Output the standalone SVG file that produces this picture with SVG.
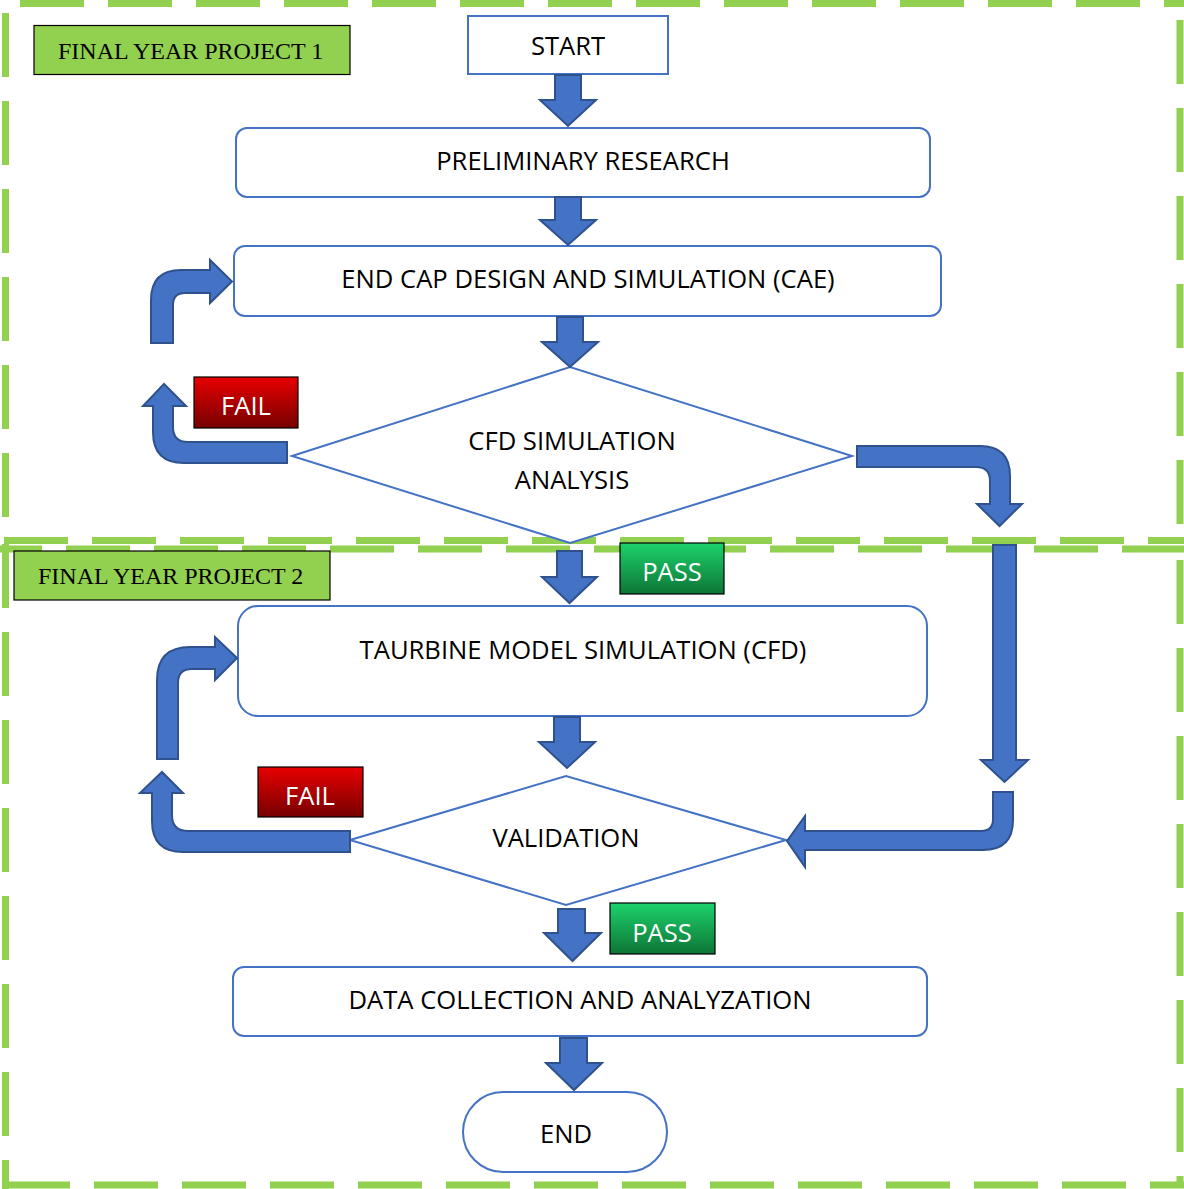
<svg xmlns="http://www.w3.org/2000/svg" width="1184" height="1189" viewBox="0 0 1184 1189">
<defs>
<linearGradient id="gRed" x1="0" y1="0" x2="0" y2="1"><stop offset="0" stop-color="#E80000"/><stop offset="1" stop-color="#760000"/></linearGradient>
<linearGradient id="gGreen" x1="0" y1="0" x2="0" y2="1"><stop offset="0" stop-color="#1DD26C"/><stop offset="1" stop-color="#0D7536"/></linearGradient>
<style>
.dash{stroke:#92D050;stroke-width:7;stroke-dasharray:64 24;fill:none}
.node{fill:#fff;stroke:#4472C4;stroke-width:2}
.t{font-family:"Open Sans","Liberation Sans",Arial,sans-serif;font-size:25.6px;fill:#000;text-anchor:middle}
.tw{font-family:"Open Sans","Liberation Sans",Arial,sans-serif;font-size:25.6px;fill:#fff;text-anchor:middle}
.lab{fill:#92D050;stroke:#000;stroke-width:1.2}
.lt{font-family:"Liberation Serif","Times New Roman",serif;font-size:24px;fill:#000}
.arr{fill:#4472C4;stroke:#2F528F;stroke-width:2;stroke-linejoin:miter}
.tag{stroke:#000;stroke-width:1.2}
</style>
</defs>
<g id="borders">
<line class="dash" x1="20" y1="3.5" x2="1184" y2="3.5"/>
<line class="dash" x1="5.5" y1="13" x2="5.5" y2="520"/>
<line class="dash" x1="1180" y1="20" x2="1180" y2="540"/>
<line class="dash" x1="2" y1="540.5" x2="1184" y2="540.5" stroke-dashoffset="-2"/>
<line class="dash" x1="0" y1="549" x2="1184" y2="549" stroke-dashoffset="22"/>
<line class="dash" x1="5.5" y1="540" x2="5.5" y2="1189" stroke-dashoffset="-4"/>
<line class="dash" x1="1180" y1="560" x2="1180" y2="1185"/>
<line class="dash" x1="6" y1="1185" x2="1184" y2="1185"/>
</g>
<g id="label-fyp1"><rect class="lab" x="34" y="25.5" width="316" height="49"/><text class="lt" x="58" y="59">FINAL YEAR PROJECT 1</text></g>
<g id="label-fyp2"><rect class="lab" x="14" y="551" width="316" height="49"/><text class="lt" x="38" y="584">FINAL YEAR PROJECT 2</text></g>
<g id="start"><rect class="node" x="468" y="16" width="200" height="58"/><text class="t" x="568" y="55">START</text></g>
<g id="prelim"><rect class="node" x="236" y="128" width="694" height="69" rx="11"/><text class="t" x="583" y="170">PRELIMINARY RESEARCH</text></g>
<g id="endcap"><rect class="node" x="234" y="246" width="707" height="70" rx="11"/><text class="t" x="588" y="288">END CAP DESIGN AND SIMULATION (CAE)</text></g>
<g id="cfd"><polygon class="node" points="292,456 570,367 852,456 570,543"/><text class="t" x="572" y="450">CFD SIMULATION</text><text class="t" x="572" y="489">ANALYSIS</text></g>
<g id="turbine"><rect class="node" x="238" y="606" width="689" height="110" rx="20"/><text class="t" x="583" y="659">TAURBINE MODEL SIMULATION (CFD)</text></g>
<g id="validation"><polygon class="node" points="350,840 566,776 786,840 566,905"/><text class="t" x="566" y="847">VALIDATION</text></g>
<g id="data"><rect class="node" x="233" y="967" width="694" height="69" rx="11"/><text class="t" x="580" y="1009">DATA COLLECTION AND ANALYZATION</text></g>
<g id="end"><rect class="node" x="463" y="1092" width="204" height="80" rx="40"/><text class="t" x="566" y="1143">END</text></g>
<g id="connectors">
<path class="arr" d="M555,75 L581,75 L581,100 L596,100 L568,126 L540,100 L555,100 Z"/>
<path class="arr" d="M555,197 L581,197 L581,220 L596,220 L568,245 L540,220 L555,220 Z"/>
<path class="arr" d="M557,317 L583,317 L583,342 L598,342 L570,367 L542,342 L557,342 Z"/>
<path class="arr" d="M557,551 L582,551 L582,577 L597,577 L569.5,603 L542,577 L557,577 Z"/>
<path class="arr" d="M554,717 L580,717 L580,742 L595,742 L567,768 L539,742 L554,742 Z"/>
<path class="arr" d="M558,909 L585,909 L585,933 L601,933 L572.5,961 L544,933 L558,933 Z"/>
<path class="arr" d="M560,1038 L587,1038 L587,1063 L602,1063 L574,1090 L546,1063 L560,1063 Z"/>
<path class="arr" d="M151,343 L151,300 Q151,270 181,270 L210,270 L210,260 L232,281.5 L210,303 L210,293 L185,293 Q173,293 173,305 L173,343 Z"/>
<path class="arr" d="M287,442 L188,442 Q173,442 173,427 L173,406 L186,406 L164,384 L143,406 L153,406 L153,432 Q153,463 184,463 L287,463 Z"/>
<path class="arr" d="M857,446 L980,446 Q1010,446 1010,476 L1010,504 L1022,504 L999.5,526 L977,504 L990,504 L990,481 Q990,467 976,467 L857,467 Z"/>
<path class="arr" d="M993,545 L1016,545 L1016,760 L1028,760 L1004.5,782 L981,760 L993,760 Z"/>
<path class="arr" d="M993,792 L1013,792 L1013,820 Q1013,850 983,850 L805,850 L805,867 L787,841 L805,816 L805,831 L981,831 Q993,831 993,819 Z"/>
<path class="arr" d="M350,831 L188,831 Q172,831 172,815 L172,793 L183,793 L162,772 L140,793 L152,793 L152,821 Q152,852 183,852 L350,852 Z"/>
<path class="arr" d="M157,759 L157,680 Q157,647 190,647 L215,647 L215,637 L237,658 L215,680 L215,669 L192,669 Q178,669 178,683 L178,759 Z"/>
</g>
<g id="fail1"><rect class="tag" x="194" y="377" width="104" height="51" fill="url(#gRed)"/><text class="tw" x="246" y="415">FAIL</text></g>
<g id="pass1"><rect class="tag" x="620" y="543" width="104" height="51" fill="url(#gGreen)"/><text class="tw" x="672" y="581">PASS</text></g>
<g id="fail2"><rect class="tag" x="258" y="767" width="105" height="50" fill="url(#gRed)"/><text class="tw" x="310" y="805">FAIL</text></g>
<g id="pass2"><rect class="tag" x="610" y="903" width="105" height="51" fill="url(#gGreen)"/><text class="tw" x="662" y="942">PASS</text></g>
</svg>
